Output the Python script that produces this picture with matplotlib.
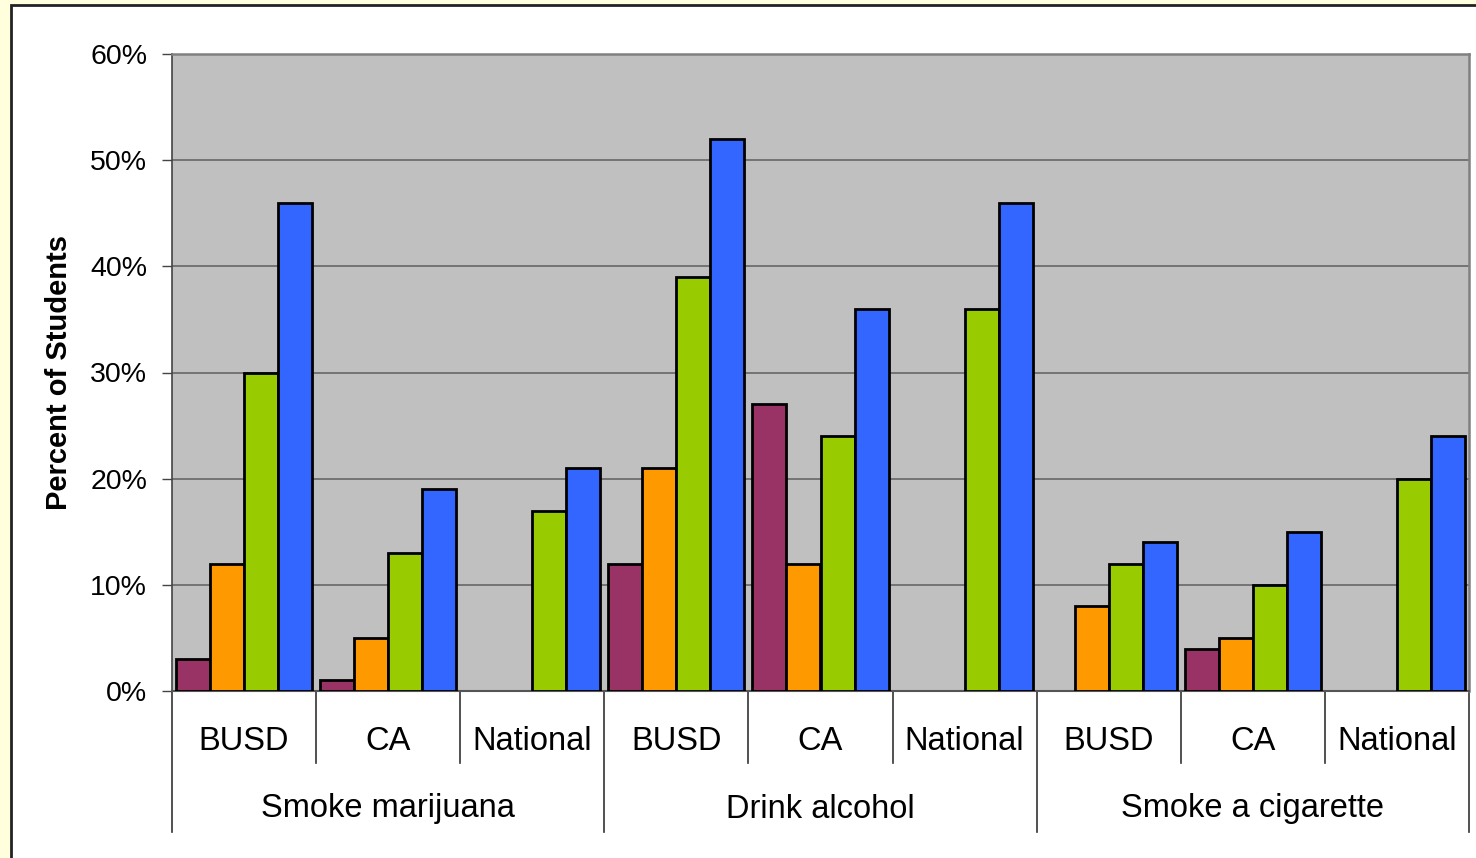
import numpy as np
import matplotlib
matplotlib.use("Agg")
import matplotlib.pyplot as plt
from matplotlib.patches import Rectangle
from matplotlib.transforms import blended_transform_factory

plt.rcParams['font.family'] = ['Liberation Sans', 'DejaVu Sans']

# ---- data ----
behaviours = ["Smoke marijuana", "Drink alcohol", "Smoke a cigarette"]
sources = ["BUSD", "CA", "National"]
series_purple = [3, 1, np.nan, 12, 27, np.nan, np.nan, 4, np.nan]
series_orange = [12, 5, np.nan, 21, 12, np.nan, 8, 5, np.nan]
series_green = [30, 13, 17, 39, 24, 36, 12, 10, 20]
series_blue = [46, 19, 21, 52, 36, 46, 14, 15, 24]
y_ticks = [0, 10, 20, 30, 40, 50, 60]
y_tick_labels = ["0%", "10%", "20%", "30%", "40%", "50%", "60%"]

colors = ["#993366", "#FF9900", "#99CC00", "#3366FF"]
series = [series_purple, series_orange, series_green, series_blue]

W, H = 1476, 858
fig = plt.figure(figsize=(W / 100, H / 100), dpi=100)
fig.patch.set_facecolor("#FFFFDD")

# white panel with border (extends past right and bottom edges)
fig.patches.append(Rectangle((10.5 / W, -0.05), (W - 10.5) / W + 0.05, (H - 5.5) / H + 0.05,
                             transform=fig.transFigure, facecolor="white",
                             edgecolor="#222222", linewidth=2, zorder=-5))

left, right, top, bottom = 172, 1469, 54, 691
ax = fig.add_axes([left / W, 1 - bottom / H, (right - left) / W, (bottom - top) / H])
ax.set_zorder(1)
ax.set_facecolor("#C0C0C0")

n_groups = len(series_blue)
x = np.arange(n_groups) + 0.5
bw = 0.236
for k, (vals, c) in enumerate(zip(series, colors)):
    ax.bar(x + (k - 1.5) * bw, vals, width=bw, color=c, edgecolor="black",
           linewidth=2, zorder=3)

ax.set_xlim(0, n_groups)
ax.set_ylim(0, 60)
ax.set_yticks(y_ticks)
ax.set_yticklabels(y_tick_labels, fontsize=20.5)
ax.yaxis.grid(True, color="#666666", linewidth=1.2, zorder=1)
ax.set_axisbelow(True)
ax.tick_params(axis="y", length=7, width=1, color="#444444", pad=11)
ax.set_xticks([])
for s in ["top", "right"]:
    ax.spines[s].set_color("#808080")
    ax.spines[s].set_linewidth(1.8)
ax.spines["left"].set_color("#444444")
ax.spines["bottom"].set_color("#555555")
ax.spines["left"].set_linewidth(1.2)
ax.spines["bottom"].set_linewidth(1.5)

ax.set_ylabel("Percent of Students", fontsize=21, fontweight="bold", labelpad=12)

# two-level category axis
tr = blended_transform_factory(ax.transData, fig.transFigure)
for i in range(n_groups):
    ax.text(i + 0.5, 1 - 741 / H, sources[i % 3], transform=tr, ha="center",
            va="center", fontsize=23.5, clip_on=False)
for j, b in enumerate(behaviours):
    ax.text(3 * j + 1.5, 1 - 809 / H, b, transform=tr, ha="center",
            va="center", fontsize=23.5, clip_on=False)
for i in range(n_groups + 1):
    y_end = 832 if i % 3 == 0 else 763
    ax.plot([i, i], [1 - bottom / H, 1 - y_end / H], transform=tr, color="#333333",
            linewidth=1.2, clip_on=False)

fig.savefig("out.png", dpi=100)
